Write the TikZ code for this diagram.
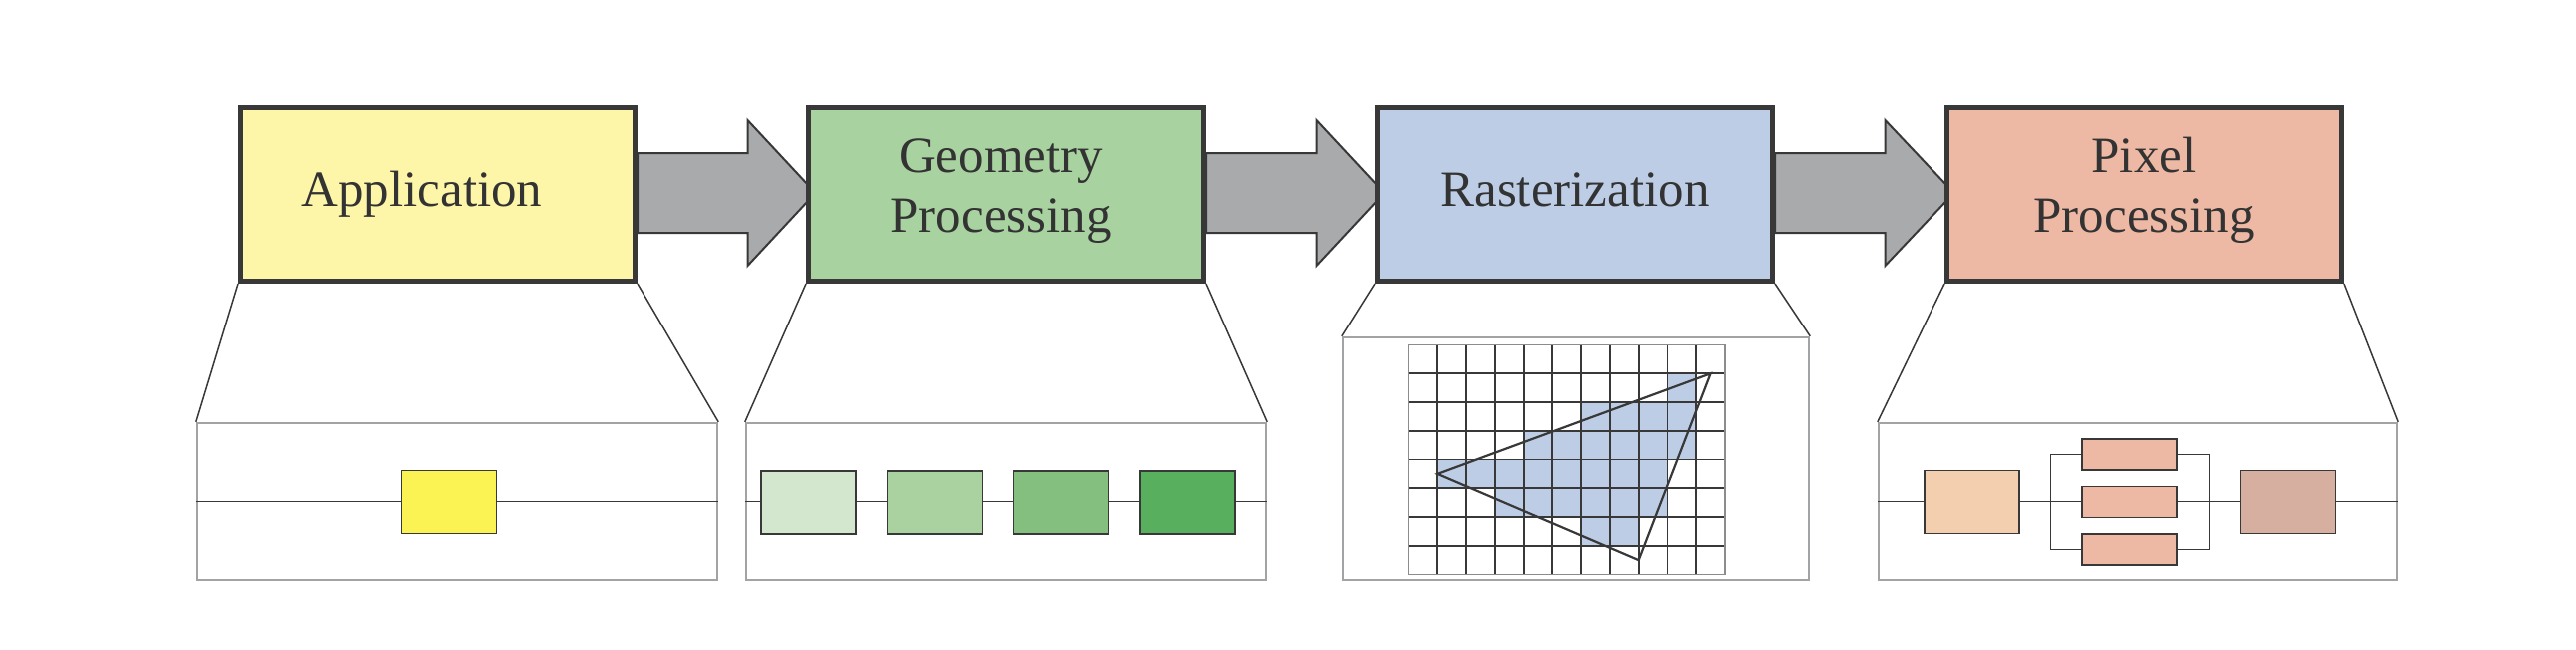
\documentclass[tikz,border=0pt]{standalone}
\usepackage{fontspec}
\setmainfont{Liberation Serif}
\usetikzlibrary{calc,backgrounds}
\definecolor{boxline}{HTML}{383838}
\definecolor{txt}{HTML}{333333}
\definecolor{appc}{HTML}{FDF6A8}
\definecolor{geoc}{HTML}{A9D2A1}
\definecolor{rasc}{HTML}{BDCDE6}
\definecolor{pixc}{HTML}{EEB9A4}
\definecolor{arrowgray}{HTML}{A9AAAC}
\definecolor{panelgray}{HTML}{A2A3A5}
\definecolor{yel}{HTML}{FBF254}
\definecolor{gA}{HTML}{D3E7CF}
\definecolor{gB}{HTML}{A9D2A0}
\definecolor{gC}{HTML}{84BF7F}
\definecolor{gD}{HTML}{58AF5E}
\definecolor{peach}{HTML}{F3CFAF}
\definecolor{pinkc}{HTML}{EDB9A5}
\definecolor{brownc}{HTML}{D6AFA1}
\definecolor{gridborder}{HTML}{8C8C8E}
\begin{document}
\begin{tikzpicture}[x=0.5pt,y=-0.5pt,
  stage/.style={draw=boxline, line width=2.5pt, minimum width=197.5pt, minimum height=87pt, inner sep=0pt},
  stagetext/.style={text=txt, font=\fontsize{25.5pt}{30pt}\selectfont, align=center, anchor=base, inner sep=0pt},
  panel/.style={draw=panelgray, line width=1.2pt, inner sep=0pt, minimum height=78.5pt},
  minibox/.style={draw=boxline, line width=0.75pt, minimum width=47.5pt, minimum height=31.5pt, inner sep=0pt},
  smallbox/.style={draw=boxline, line width=0.75pt, minimum width=47.5pt, minimum height=15.5pt, inner sep=0pt},
  thin/.style={draw=boxline, line width=0.75pt},
  gridline/.style={draw=boxline, line width=0.9pt},
  triline/.style={draw=boxline, line width=1.1pt, line join=miter},
  bigarrow/.style={fill=arrowgray, draw=boxline, line width=1pt, line join=miter}
]
\useasboundingbox (0,0) rectangle (2578,650);

% stage boxes
\node[stage, fill=appc] (app) at (438,194.5) {};
\node[stage, fill=geoc] (geo) at (1007,194.5) {};
\node[stage, fill=rasc] (ras) at (1576,194.5) {};
\node[stage, fill=pixc] (pix) at (2146,194.5) {};

\node[stagetext] (appT) at (422,206.7) {Application};
\node[stagetext] (geoT) at (1002,232) {Geometry\\Processing};
\node[stagetext] (rasT) at (1576,206.7) {Rasterization};
\node[stagetext] (pixT) at (2146,232) {Pixel\\Processing};

% block arrows
\begin{scope}[on background layer]
\foreach \a/\b in {app/geo, geo/ras, ras/pix} {
  \filldraw[bigarrow] ($(\a.east)+(0,-41.5)$) -- ($(\a.east)+(110.5,-41.5)$)
    -- ($(\a.east)+(110.5,-74.5)$) -- ($(\b.west)+(9.5,-1.5)$)
    -- ($(\a.east)+(110.5,71.5)$) -- ($(\a.east)+(110.5,38.5)$)
    -- ($(\a.east)+(0,38.5)$) -- cycle;
}
\end{scope}

% panel 1
\node[panel, minimum width=260.5pt] (p1) at (457.5,502.5) {};
\draw[thin] (app.south west) -- (p1.north west);
\draw[thin] (app.south east) -- (p1.north east);
\draw[thin] (p1.west) -- (p1.east);
\node[minibox, fill=yel] (y1) at (449,503) {};

% panel 2
\node[panel, minimum width=260pt] (p2) at (1007,502.5) {};
\draw[thin] (geo.south west) -- (p2.north west);
\draw[thin] (geo.south east) -- (p2.north east);
\draw[thin] (p2.west) -- (p2.east);
\node[minibox, fill=gA] (g1) at (809.5,503.4) {};
\node[minibox, fill=gB] (g2) at (935.8,503.4) {};
\node[minibox, fill=gC] (g3) at (1062.1,503.4) {};
\node[minibox, fill=gD] (g4) at (1188.4,503.4) {};

% panel 3
\node[panel, minimum width=233pt, minimum height=121.5pt] (p3) at (1577,459.5) {};
\draw[thin] (ras.south west) -- (p3.north west);
\draw[thin] (ras.south east) -- (p3.north east);
\begin{scope}[shift={(1409.5,345.5)}, x=14.385pt, y=-14.375pt]
  \foreach \r/\c in {1/9, 2/6,2/7,2/8,2/9, 3/4,3/5,3/6,3/7,3/8,3/9,
                     4/1,4/2,4/3,4/4,4/5,4/6,4/7,4/8, 5/3,5/4,5/5,5/6,5/7,5/8, 6/6,6/7}
    \fill[rasc] (\c,\r) rectangle ++(1,1);
  \foreach \i in {1,...,10} \draw[gridline] (\i,0) -- (\i,8);
  \foreach \j in {1,...,7} \draw[gridline] (0,\j) -- (11,\j);
  \draw[draw=gridborder, line width=0.9pt] (0,0) rectangle (11,8);
  \coordinate (t1) at (1,4.5);
  \coordinate (t2) at (10.5,1);
  \coordinate (t3) at (8,7.5);
  \draw[triline] (t1) -- (t2) -- (t3) -- cycle;
\end{scope}

% panel 4
\node[panel, minimum width=259.5pt] (p4) at (2139.5,502.5) {};
\draw[thin] (pix.south west) -- (p4.north west);
\draw[thin] (pix.south east) -- (p4.north east);
\draw[thin] (p4.west) -- (p4.east);
\node[minibox, fill=peach] (pa) at (1973.7,503) {};
\node[smallbox, fill=pinkc] (pt) at (2131.5,455.5) {};
\node[smallbox, fill=pinkc] (pm) at (2131.5,503) {};
\node[smallbox, fill=pinkc] (pb) at (2131.5,550.5) {};
\node[minibox, fill=brownc] (pc) at (2289.8,503) {};
\draw[thin] (pt.west) -- ++(-31,0) |- (pb.west);
\draw[thin] (pt.east) -- ++(31.7,0) |- (pb.east);
\end{tikzpicture}
\end{document}
